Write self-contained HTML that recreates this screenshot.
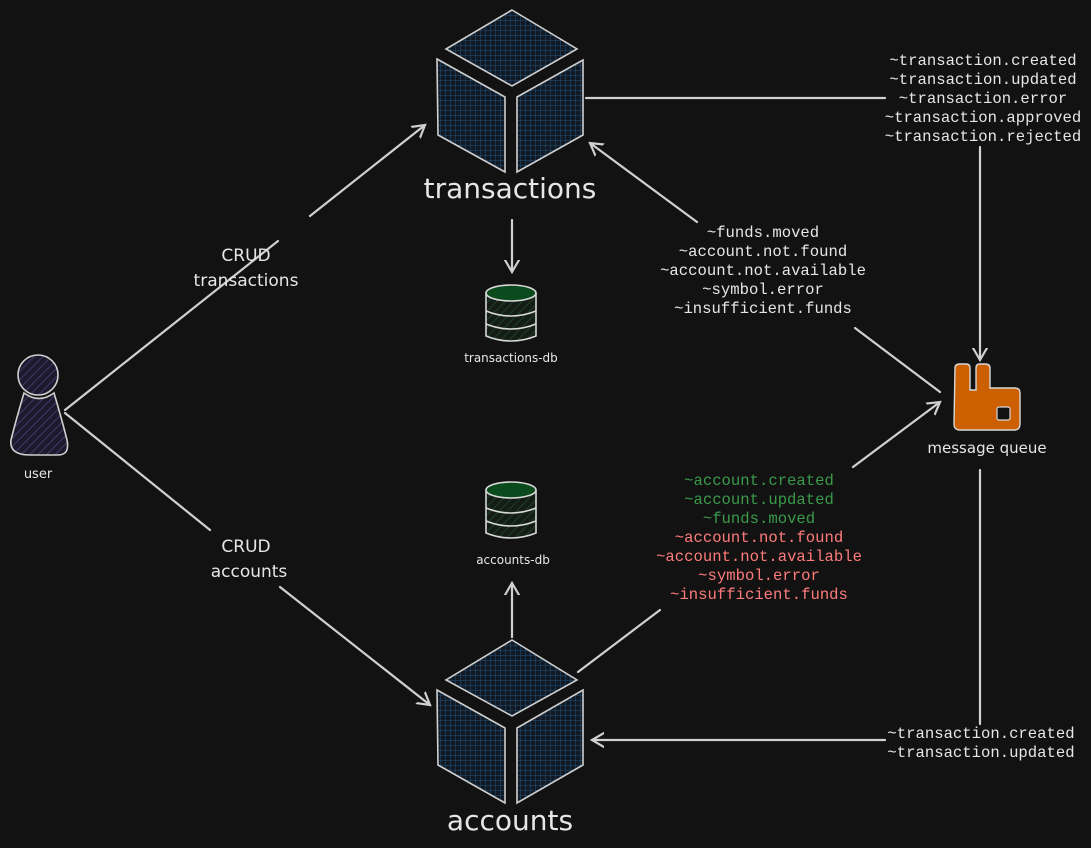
<!DOCTYPE html>
<html><head><meta charset="utf-8"><style>
html,body{margin:0;padding:0;background:#121212;}
svg{display:block}
.m{font-family:"Liberation Mono",monospace;font-size:15.6px;fill:#e6e6e6;text-anchor:middle}
.h{font-family:"DejaVu Sans","Liberation Sans",sans-serif;fill:#e6e6e6;text-anchor:middle}
.ln{stroke:#d0d0d0;stroke-width:2.2;fill:none;stroke-linecap:round}
.g{fill:#3a9a4a}.r{fill:#ff7b7b}
</style></head><body>
<svg width="1091" height="848" viewBox="0 0 1091 848" xmlns="http://www.w3.org/2000/svg">
<defs>
<pattern id="grid" width="5" height="5" patternUnits="userSpaceOnUse">
<rect width="5" height="5" fill="#111a24"/>
<path d="M0 0H5M0 0V5" stroke="#24527a" stroke-width="1"/>
</pattern>
<pattern id="hp" width="6" height="6" patternUnits="userSpaceOnUse" patternTransform="rotate(45)">
<rect width="6" height="6" fill="#1c1a2c"/><path d="M0 0V6" stroke="#4a4478" stroke-width="1.5"/>
</pattern>
<pattern id="hg" width="6" height="6" patternUnits="userSpaceOnUse" patternTransform="rotate(45)">
<rect width="6" height="6" fill="#141c16"/><path d="M0 0V6" stroke="#234a2a" stroke-width="1.5"/>
</pattern>
<marker id="a" markerWidth="16" markerHeight="16" refX="12" refY="8" orient="auto" markerUnits="userSpaceOnUse">
<path d="M0 1L12 8L0 15" fill="none" stroke="#d0d0d0" stroke-width="2.2" stroke-linecap="round"/>
</marker>
</defs>

<g stroke="#cfcfcf" stroke-width="1.6" fill="url(#grid)">
<polygon points="512,10 446,49 512,86 577,49"/>
<polygon points="437,59 505,97 505,172 438,135"/>
<polygon points="517,97 583,60 583,135 517,172"/>
<polygon points="512,640 446,680 512,716 577,680"/>
<polygon points="437,690 505,728 505,803 438,765"/>
<polygon points="517,728 583,690 583,765 517,803"/>
</g>
<text class="h" x="510" y="198" font-size="28">transactions</text>
<text class="h" x="510" y="830" font-size="28">accounts</text>

<g stroke="#d0d0d0" stroke-width="1.6" fill="url(#hp)">
<path d="M24,393 Q16,420 11,440 Q9,455 30,455 L58,455 Q70,455 67,440 Q62,420 54,393 Q39,404 24,393Z"/>
<circle cx="38" cy="375" r="20"/>
</g>
<text class="h" x="38" y="478" font-size="13">user</text>

<g stroke="#d8d8d8" stroke-width="1.6">
<path d="M486,293 V336 Q511,346 536,336 V293" fill="url(#hg)"/>
<path d="M486,311 Q511,321 536,311 M486,324 Q511,334 536,324" fill="none"/>
<ellipse cx="511" cy="293" rx="25" ry="8" fill="#0b4a1c"/>
<path d="M486,490 V533 Q511,543 536,533 V490" fill="url(#hg)"/>
<path d="M486,508 Q511,518 536,508 M486,521 Q511,531 536,521" fill="none"/>
<ellipse cx="511" cy="490" rx="25" ry="8" fill="#0b4a1c"/>
</g>
<text class="h" x="511" y="362" font-size="12">transactions-db</text>
<text class="h" x="513" y="564" font-size="12">accounts-db</text>

<path d="M955,368 Q955,364 960,364 L966,364 Q970,364 970,368 L970,390 L976,390 L976,368 Q976,364 980,364 L985,364 Q990,364 990,368 L990,388 L1015,388 Q1020,388 1020,393 L1020,424 Q1020,430 1014,430 L960,430 Q954,430 954,424Z" fill="#cc5f00" stroke="#d8d8d8" stroke-width="1.4"/>
<rect x="997" y="407" width="13" height="13" rx="2" fill="#121212" stroke="#d8d8d8" stroke-width="1.2"/>
<text class="h" x="987" y="453" font-size="15">message queue</text>

<path class="ln" d="M65,410 L278,241"/>
<path class="ln" d="M310,216 L425,125" marker-end="url(#a)"/>
<path class="ln" d="M65,413 L210,530"/>
<path class="ln" d="M280,587 L430,705" marker-end="url(#a)"/>
<path class="ln" d="M586,98 L885,98"/>
<path class="ln" d="M980,147 L980,360" marker-end="url(#a)"/>
<path class="ln" d="M940,392 L855,328"/>
<path class="ln" d="M697,222 L590,143" marker-end="url(#a)"/>
<path class="ln" d="M578,672 L660,610"/>
<path class="ln" d="M853,467 L940,402" marker-end="url(#a)"/>
<path class="ln" d="M980,470 L980,724"/>
<path class="ln" d="M885,740 L592,740" marker-end="url(#a)"/>
<path class="ln" d="M512,220 L512,272" marker-end="url(#a)"/>
<path class="ln" d="M512,637 L512,583" marker-end="url(#a)"/>

<text class="h" x="246" y="261" font-size="17">CRUD</text>
<text class="h" x="246" y="286" font-size="17">transactions</text>
<text class="h" x="246" y="552" font-size="17">CRUD</text>
<text class="h" x="249" y="577" font-size="17">accounts</text>

<g class="m">
<text x="983" y="65">~transaction.created</text>
<text x="983" y="84">~transaction.updated</text>
<text x="983" y="103">~transaction.error</text>
<text x="983" y="122">~transaction.approved</text>
<text x="983" y="141">~transaction.rejected</text>
<text x="763" y="237">~funds.moved</text>
<text x="763" y="256">~account.not.found</text>
<text x="763" y="275">~account.not.available</text>
<text x="763" y="294">~symbol.error</text>
<text x="763" y="313">~insufficient.funds</text>
<text x="759" y="485" class="g">~account.created</text>
<text x="759" y="504" class="g">~account.updated</text>
<text x="759" y="523" class="g">~funds.moved</text>
<text x="759" y="542" class="r">~account.not.found</text>
<text x="759" y="561" class="r">~account.not.available</text>
<text x="759" y="580" class="r">~symbol.error</text>
<text x="759" y="599" class="r">~insufficient.funds</text>
<text x="981" y="738">~transaction.created</text>
<text x="981" y="757">~transaction.updated</text>
</g>
</svg>
</body></html>
